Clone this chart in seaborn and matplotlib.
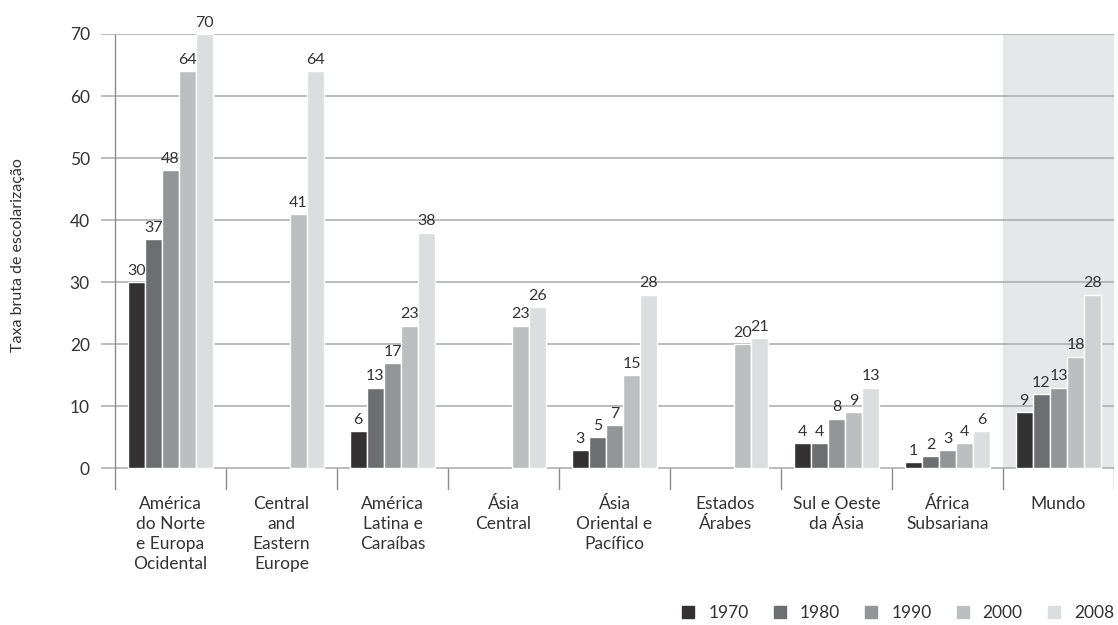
import numpy as np
import pandas as pd
import matplotlib
matplotlib.use("Agg")
import matplotlib.pyplot as plt
import seaborn as sns

# Gross enrolment ratio by region and year
regions = [
    "América\ndo Norte\ne Europa\nOcidental",
    "Central\nand\nEastern\nEurope",
    "América\nLatina e\nCaraíbas",
    "Ásia\nCentral",
    "Ásia\nOriental e\nPacífico",
    "Estados\nÁrabes",
    "Sul e Oeste\nda Ásia",
    "África\nSubsariana",
    "Mundo",
]
years = ["1970", "1980", "1990", "2000", "2008"]

v1970 = [30, np.nan, 6, np.nan, 3, np.nan, 4, 1, 9]
v1980 = [37, np.nan, 13, np.nan, 5, np.nan, 4, 2, 12]
v1990 = [48, np.nan, 17, np.nan, 7, np.nan, 8, 3, 13]
v2000 = [64, 41, 23, 23, 15, 20, 9, 4, 18]
v2008 = [70, 64, 38, 26, 28, 21, 13, 6, 28]

yticks = [0, 10, 20, 30, 40, 50, 60, 70]
ylabel = "Taxa bruta de escolarização"

palette = ["#333132", "#6d6e71", "#939598", "#bcbec0", "#dcdddf"]
text_color = "#333333"

series = [v1970, v1980, v1990, v2000, v2008]
df = pd.DataFrame({
    "region": np.tile(regions, len(years)),
    "year": np.repeat(years, len(regions)),
    "value": np.concatenate([np.array(s, dtype=float) for s in series]),
})

sns.set_theme(style="white")
plt.rcParams["font.family"] = ["Lato", "DejaVu Sans"]
plt.rcParams["text.color"] = text_color

W, H = 1118, 625
fig = plt.figure(figsize=(W / 100, H / 100), dpi=100)
ax = fig.add_axes([101 / W, 1 - 490 / H, (1114 - 101) / W, (490 - 34) / H])

sns.barplot(data=df, x="region", y="value", hue="year", order=regions,
            hue_order=years, palette=palette, width=0.77, gap=0,
            saturation=1, errorbar=None, ax=ax, zorder=3, legend=False)

# the lightest bar sits on the shaded world column, so give it a touch more tone
ax.containers[-1][-1].set_facecolor("#d0d1d3")

y_low = -3.5
ax.set_xlim(-0.5 - 14 / 111, 8.5)
ax.set_ylim(y_low, 70)

# highlighted world column
ax.fill_between([7.5, 8.5], 0, 70, color="#e6e7e8", zorder=0.2, lw=0)

# horizontal grid lines
for t in yticks:
    ax.axhline(t, color="#a7a9ac", lw=1.1, zorder=1)

# axis line and category separators
sep_color = "#8a8c8e"
ax.vlines(-0.5, y_low, 70, color=sep_color, lw=1.0, zorder=2)
ax.vlines(np.arange(0.5, 9.5, 1.0), y_low, 0, color=sep_color, lw=1.0, zorder=2)

for s in ax.spines.values():
    s.set_visible(False)

ax.set_yticks(yticks)
ax.set_yticklabels([str(t) for t in yticks])
ax.tick_params(axis="y", length=0, pad=8, labelsize=12.5, labelcolor=text_color)
ax.tick_params(axis="x", length=0, pad=4, labelsize=12.5, labelcolor=text_color)
for lab in ax.get_xticklabels():
    lab.set_linespacing(1.33)
    lab.set_verticalalignment("top")
ax.set_xlabel("")
ax.set_ylabel("")

# value labels above bars
for cont in ax.containers:
    for bar in cont:
        h = bar.get_height()
        if np.isnan(h):
            continue
        ax.annotate(f"{h:.0f}", (bar.get_x() + bar.get_width() / 2, h),
                    xytext=(0, 3), textcoords="offset points",
                    ha="center", va="bottom", fontsize=11.5,
                    color=text_color, zorder=4)

fig.text(18 / W, 1 - 255 / H, ylabel, rotation=90, ha="center", va="center",
         fontsize=11.5, color=text_color)

handles = [plt.Rectangle((0, 0), 1, 1, color=c) for c in palette]
fig.legend(handles, years, loc="lower right", ncol=5, frameon=False,
           bbox_to_anchor=(1114 / W, 4 / H), borderaxespad=0, borderpad=0,
           fontsize=12.5, handlelength=0.7, handleheight=0.7,
           handletextpad=0.8, columnspacing=1.45, labelcolor=text_color)

fig.savefig("out.png", dpi=100)
